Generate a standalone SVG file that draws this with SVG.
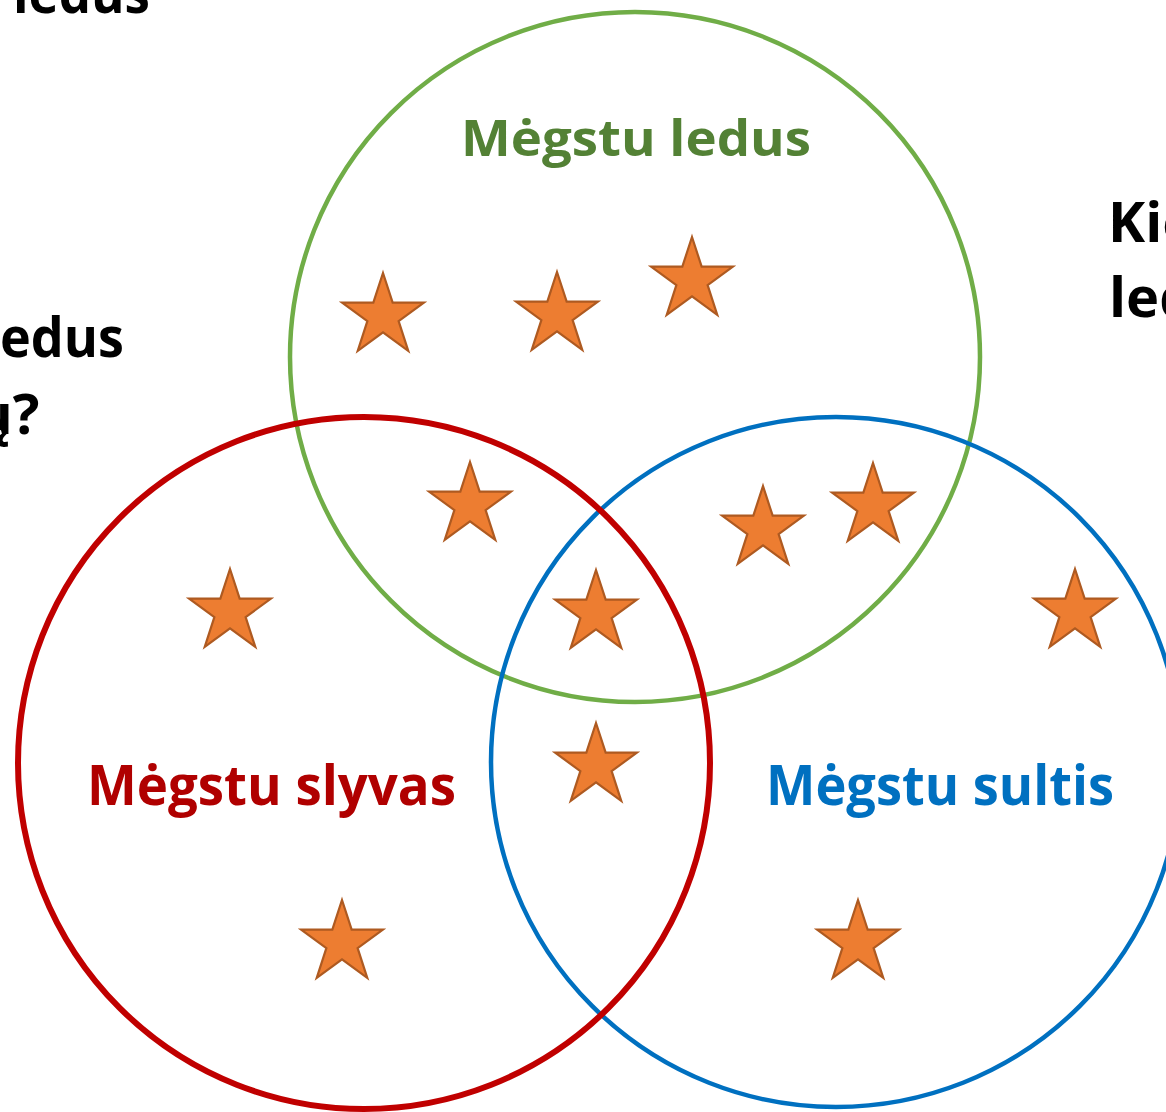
<svg xmlns="http://www.w3.org/2000/svg" width="1166" height="1112" viewBox="0 0 1166 1112">
<defs>
<style>
.ring{fill:none}
.star{fill:#ED7D31;stroke:#AE5A21;stroke-width:2.2;stroke-linejoin:miter}
.lbl{font-family:"Open Sans","Noto Sans","Liberation Sans",sans-serif;font-weight:bold}
.q{font-family:"Open Sans","Noto Sans","Liberation Sans",sans-serif;font-weight:bold;font-size:56px;fill:#000}
</style>
<path id="st" d="M0,-43 L9.66,-13.29 L40.9,-13.29 L15.63,5.08 L25.27,34.79 L0,16.43 L-25.27,34.79 L-15.63,5.08 L-40.9,-13.29 L-9.66,-13.29 Z"/>
</defs>
<rect width="1166" height="1112" fill="#fff"/>
<g id="question-text">
<text class="q" x="13" y="13" textLength="137" lengthAdjust="spacingAndGlyphs">ledus</text>
<text class="q" x="0" y="357" textLength="124" lengthAdjust="spacingAndGlyphs">edus</text>
<text class="q" x="-24" y="434">ų?</text>
<text class="q" x="1108" y="242">Kie</text>
<text class="q" x="1109" y="317">led</text>
</g>
<g id="set-ledus"><circle class="ring" cx="635" cy="357" r="345" stroke="#70AD47" stroke-width="4.5"/></g>
<g id="set-sultis"><circle class="ring" cx="836" cy="762" r="345" stroke="#0070C0" stroke-width="4.5"/></g>
<g id="set-slyvas"><circle class="ring" cx="364" cy="763" r="346" stroke="#C00000" stroke-width="6"/></g>
<g id="labels">
<text class="lbl" x="461" y="156" font-size="51" fill="#538135" textLength="350" lengthAdjust="spacingAndGlyphs">Mėgstu ledus</text>
<text class="lbl" x="87" y="805" font-size="56" fill="#B00000" textLength="369" lengthAdjust="spacingAndGlyphs">Mėgstu slyvas</text>
<text class="lbl" x="766" y="805" font-size="56" fill="#0070C0" textLength="348" lengthAdjust="spacingAndGlyphs">Mėgstu sultis</text>
</g>
<g id="stars">
<use href="#st" class="star" x="383" y="316"/>
<use href="#st" class="star" x="557" y="315"/>
<use href="#st" class="star" x="692" y="280"/>
<use href="#st" class="star" x="470" y="505"/>
<use href="#st" class="star" x="873" y="506"/>
<use href="#st" class="star" x="763" y="529"/>
<use href="#st" class="star" x="230" y="612"/>
<use href="#st" class="star" x="596" y="613"/>
<use href="#st" class="star" x="1075" y="612"/>
<use href="#st" class="star" x="596" y="766"/>
<use href="#st" class="star" x="342" y="943"/>
<use href="#st" class="star" x="858" y="943"/>
</g>
</svg>
